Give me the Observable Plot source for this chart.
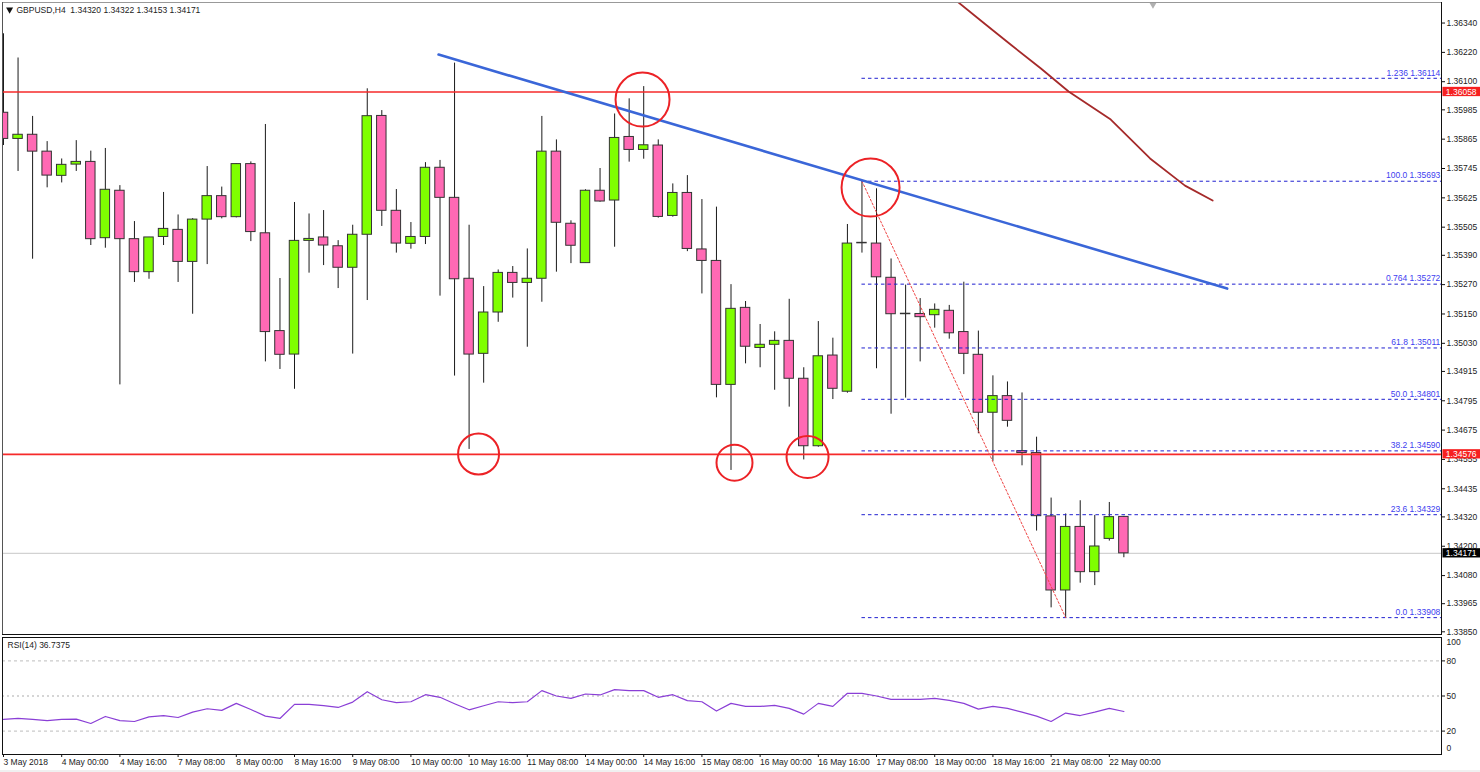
<!DOCTYPE html>
<html>
<head>
<meta charset="utf-8">
<script src="https://cdn.jsdelivr.net/npm/d3@7"></script>
<script src="https://cdn.jsdelivr.net/npm/@observablehq/plot@0.6"></script>
<style>
html,body{margin:0;padding:0;background:#fff;overflow:hidden}
svg{display:block}
#main,#rsi{width:1480px}
#rsi{margin-top:-5px}
#strip{height:2px;background:#f0f0f0}
</style>
</head>
<body>
<div id="main"></div>
<div id="rsi"></div>
<div id="strip"></div>
<script>
const opens=[1.35973,1.35866,1.35883,1.35814,1.35715,1.35761,1.35772,1.35460,1.35654,1.35456,1.35321,1.35465,1.35494,1.35363,1.35536,1.35632,1.35546,1.35763,1.35480,1.35080,1.34984,1.35449,1.35463,1.35427,1.35339,1.35474,1.35960,1.35572,1.35437,1.35465,1.35748,1.35625,1.35294,1.34987,1.35156,1.35318,1.35277,1.35294,1.35814,1.35519,1.35358,1.35654,1.35614,1.35874,1.35821,1.35839,1.35551,1.35645,1.35414,1.35367,1.34860,1.35175,1.35011,1.35024,1.35040,1.34885,1.34609,1.34980,1.34832,1.35441,1.35438,1.35298,1.35151,1.35150,1.35145,1.35163,1.35076,1.34983,1.34746,1.34814,1.34589,1.34581,1.34322,1.34019,1.34279,1.34094,1.34230,1.34320];
const highs=[1.36296,1.36197,1.35958,1.35855,1.35784,1.35859,1.35816,1.35827,1.35675,1.35528,1.35463,1.35647,1.35555,1.35540,1.35753,1.35669,1.35764,1.35772,1.35925,1.35295,1.35606,1.35559,1.35573,1.35450,1.35513,1.36071,1.35982,1.35659,1.35524,1.35769,1.35778,1.36176,1.35513,1.35262,1.35330,1.35344,1.35416,1.35958,1.35862,1.35531,1.35658,1.35745,1.35968,1.36030,1.36080,1.35862,1.35682,1.35716,1.35618,1.35587,1.35270,1.35201,1.35107,1.35077,1.35210,1.34930,1.35119,1.35051,1.35516,1.35693,1.35662,1.35375,1.35268,1.35213,1.35191,1.35185,1.35280,1.35080,1.34897,1.34872,1.34827,1.34646,1.34397,1.34332,1.34386,1.34326,1.34379,1.34322];
const lows=[1.35839,1.35733,1.35374,1.35666,1.35686,1.35733,1.35430,1.35419,1.34860,1.35279,1.35292,1.35430,1.35279,1.35149,1.35352,1.35539,1.35543,1.35446,1.34954,1.34923,1.34842,1.35317,1.35348,1.35254,1.34986,1.35205,1.35508,1.35399,1.35415,1.35434,1.35223,1.34896,1.34596,1.34867,1.35116,1.35215,1.35014,1.35198,1.35321,1.35356,1.35358,1.35607,1.35423,1.35771,1.35783,1.35542,1.35546,1.35405,1.35232,1.34807,1.34510,1.34946,1.34930,1.34838,1.34769,1.34553,1.34605,1.34800,1.34826,1.35399,1.34926,1.34740,1.34806,1.34954,1.35092,1.35047,1.34902,1.34660,1.34547,1.34687,1.34529,1.34262,1.33948,1.33908,1.34049,1.34039,1.34221,1.34153];
const closes=[1.35866,1.35883,1.35814,1.35716,1.35760,1.35772,1.35456,1.35658,1.35456,1.35321,1.35463,1.35498,1.35363,1.35536,1.35632,1.35546,1.35763,1.35485,1.35076,1.34983,1.35449,1.35457,1.35430,1.35339,1.35474,1.35959,1.35572,1.35438,1.35465,1.35748,1.35625,1.35292,1.34984,1.35156,1.35318,1.35277,1.35294,1.35814,1.35523,1.35429,1.35654,1.35610,1.35870,1.35821,1.35840,1.35547,1.35645,1.35416,1.35367,1.34860,1.35171,1.35016,1.35024,1.35040,1.34885,1.34609,1.34977,1.34844,1.35438,1.35439,1.35300,1.35149,1.35149,1.35137,1.35167,1.35071,1.34987,1.34746,1.34814,1.34713,1.34581,1.34323,1.34019,1.34279,1.34094,1.34199,1.34319,1.34171];
const rsiValues=[30,30.8,30,29,30,30.2,26.5,32.5,29,28.2,32.2,33.3,31.6,36.2,39.1,37.7,43.7,38.5,32.8,30.8,42.8,42.8,41.7,40.2,44.8,53.7,46.8,44.3,45.1,51.1,48.9,43.4,38.2,41.7,45.1,44.3,45.1,54.6,50,48,51.7,50.9,55.5,54.6,54.6,48.9,51.1,46,45.1,37.1,43.7,41.1,41.1,42,39.4,34.5,43.7,41.1,52.3,52.3,50,47.1,47.1,47.1,48,46.3,43.7,38.8,41.1,39.4,36.2,32.8,28.2,35.4,33.3,36.2,39.4,36.7375];

const timeLabels=["3 May 2018","4 May 00:00","4 May 16:00","7 May 08:00","8 May 00:00","8 May 16:00","9 May 08:00","10 May 00:00","10 May 16:00","11 May 08:00","14 May 00:00","14 May 16:00","15 May 08:00","16 May 00:00","16 May 16:00","17 May 08:00","18 May 00:00","18 May 16:00","21 May 08:00","22 May 00:00"];
const timeTickBars=timeLabels.map((_,k)=>k*4);
const priceTicks=[1.36340,1.36220,1.36100,1.35985,1.35865,1.35745,1.35625,1.35505,1.35390,1.35270,1.35150,1.35030,1.34915,1.34795,1.34675,1.34555,1.34435,1.34320,1.34200,1.34080,1.33965,1.33850];
const fibLevels=["1.236","100.0","0.764","61.8","50.0","38.2","23.6","0.0"];
const fibPrices=[1.36114,1.35693,1.35272,1.35011,1.34801,1.34590,1.34329,1.33908];
const resistance=1.36058, support=1.34576, lastPrice=1.34171;
const trendBars=[29.9,84.1], trendPrices=[1.36211,1.35254];
const maBars=[65.2,67.5,69.3,71.3,73.2,76.1,78.8,81.2,83.1];
const maPrices=[1.36445,1.36334,1.36248,1.36154,1.36060,1.35945,1.35786,1.35675,1.35614];
const fibSwingBars=[59,73], fibSwingPrices=[1.35693,1.33908];
const circleBars=[43.92,59.59,32.65,50.24,55.26];
const circlePrices=[1.36027,1.35667,1.34577,1.34542,1.34565];
const circleRadii=[27,29,20.5,18,21];
const rsiLevels=[80,50,20];

const bars=opens.map((o,i)=>({i,o,h:highs[i],l:lows[i],c:closes[i],up:closes[i]>o}));
const fibs=fibLevels.map((n,k)=>({n,p:fibPrices[k]}));
const circles=circleBars.map((x,k)=>({x,y:circlePrices[k],r:circleRadii[k]}));
const FONT="'Liberation Sans',sans-serif", FS=8.5;
const XMIN=-0.0687, XMAX=98.83, HW=0.325, BLACK="#111";
const tagH=0.00019;
const tag=(p,fill,label,color)=>[
  Plot.rect([p],{x1:()=>XMAX+0.1,x2:()=>XMAX+2.7,y1:d=>d-tagH,y2:d=>d+tagH,fill}),
  Plot.text([p],{x:()=>XMAX+0.3,y:d=>d,text:()=>label,fill:color,textAnchor:"start",fontSize:FS,fontFamily:FONT})
];

const main=Plot.plot({
  width:1480,height:640,marginTop:2,marginBottom:6,marginLeft:2,marginRight:39,
  style:{background:"transparent",fontFamily:FONT,fontSize:FS+"px",color:"#111"},
  x:{domain:[XMIN,XMAX],axis:null},
  y:{domain:[1.33839,1.36424],label:null},
  r:{type:"identity"},
  marks:[
    Plot.ruleY([lastPrice],{stroke:"#d2d2d2",strokeWidth:1.2}),
    Plot.ruleX(bars,{x:"i",y1:"l",y2:"h",stroke:"#1a1a1a",strokeWidth:1}),
    Plot.rect(bars,{x1:d=>d.i-HW,x2:d=>d.i+HW,y1:"o",y2:"c",fill:d=>d.up?"#7fff00":"#ff69b4",stroke:"#333",strokeWidth:1,clip:true}),
    Plot.ruleY([resistance,support],{stroke:"#f62a2a",strokeWidth:1.7}),
    Plot.ruleY(fibs,{y:"p",x1:()=>fibSwingBars[0],x2:()=>XMAX,stroke:"#2020d0",strokeWidth:1,strokeDasharray:"3.5,3"}),
    Plot.text(fibs,{x:()=>XMAX-0.08,y:"p",text:d=>d.n+" "+d.p.toFixed(5),dy:-5.5,textAnchor:"end",fill:"#4040f0",fontSize:FS,fontFamily:FONT}),
    Plot.line(fibSwingBars.map((x,k)=>({x,y:fibSwingPrices[k]})),{x:"x",y:"y",stroke:"#ee4444",strokeWidth:1,strokeDasharray:"2,2"}),
    Plot.line(trendBars.map((x,k)=>({x,y:trendPrices[k]})),{x:"x",y:"y",stroke:"#3a66d8",strokeWidth:2.6}),
    Plot.line(maBars.map((x,k)=>({x,y:maPrices[k]})),{x:"x",y:"y",stroke:"#a52a2a",strokeWidth:1.8,clip:true}),
    Plot.dot(circles,{x:"x",y:"y",r:"r",stroke:"#ec2226",strokeWidth:2,fill:"none"}),
    Plot.dot([1.36415],{x:()=>79,y:d=>d,symbol:"triangle",r:2.6,rotate:180,fill:"#b0b0b0",stroke:"none"}),
    Plot.axisY({anchor:"right",ticks:priceTicks,tickFormat:d3.format(".5f"),tickSize:3,tickPadding:2,label:null,fontSize:FS,fontFamily:FONT,fill:"#222",stroke:BLACK}),
    ...tag(resistance,"#f62020","1.36058","#fff"),
    ...tag(support,"#f62020","1.34576","#fff"),
    ...tag(lastPrice,"#000","1.34171","#fff"),
    Plot.frame({anchor:"top",stroke:"#999"}),
    Plot.frame({anchor:"left",stroke:"#555"}),
    Plot.frame({anchor:"right",stroke:BLACK}),
    Plot.frame({anchor:"bottom",stroke:BLACK}),
    Plot.text(["GBPUSD,H4  1.34320 1.34322 1.34153 1.34171"],{frameAnchor:"top-left",dx:14,dy:4,textAnchor:"start",fontSize:FS,fontFamily:FONT,fill:"#222"}),
    Plot.dot([1.36395],{x:()=>0.42,y:d=>d,symbol:"triangle",r:2.6,rotate:180,fill:"#111",stroke:"none"})
  ]
});
document.getElementById("main").append(main);

const rsi=Plot.plot({
  width:1480,height:135,marginTop:2,marginBottom:16,marginLeft:2,marginRight:39,
  style:{background:"transparent",fontFamily:FONT,fontSize:FS+"px",color:"#111"},
  x:{domain:[XMIN,XMAX],label:null},
  y:{domain:[0,100],label:null},
  marks:[
    Plot.ruleY([80,20],{stroke:"#bdbdbd",strokeWidth:1,strokeDasharray:"3,3"}),
    Plot.ruleY([50],{stroke:"#c8c8c8",strokeWidth:1.4,strokeDasharray:"2,3"}),
    Plot.line(rsiValues.map((v,i)=>({i,v})),{x:"i",y:"v",stroke:"#8a3fd6",strokeWidth:1.2}),
    Plot.axisY({anchor:"right",ticks:rsiLevels,tickSize:3,tickPadding:2,label:null,fontSize:FS,fontFamily:FONT,fill:"#222",stroke:BLACK}),
    Plot.text([100],{x:()=>XMAX,y:d=>d,text:d=>String(d),dx:5,dy:5,textAnchor:"start",fontSize:FS,fontFamily:FONT,fill:"#222"}),
    Plot.text([0],{x:()=>XMAX,y:d=>d,text:d=>String(d),dx:5,dy:-6,textAnchor:"start",fontSize:FS,fontFamily:FONT,fill:"#222"}),
    Plot.axisX({ticks:timeTickBars,tickFormat:i=>timeLabels[i/4],tickSize:3,tickPadding:1,textAnchor:"start",label:null,fontSize:FS,fontFamily:FONT,fill:"#222",stroke:BLACK}),
    Plot.frame({stroke:BLACK}),
    Plot.text(["RSI(14) 36.7375"],{frameAnchor:"top-left",dx:5,dy:4,textAnchor:"start",fontSize:FS,fontFamily:FONT,fill:"#222"})
  ]
});
document.getElementById("rsi").append(rsi);
</script>
</body>
</html>
